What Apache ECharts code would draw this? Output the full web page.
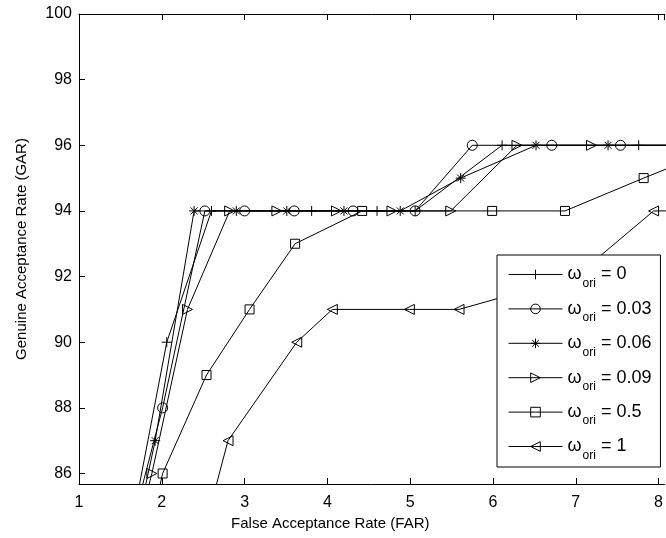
<!DOCTYPE html>
<html>
<head>
<meta charset="utf-8">
<script src="https://cdn.jsdelivr.net/npm/echarts@6/dist/echarts.min.js"></script>
<style>
    html, body {margin: 0; padding: 0; background: #fff;}
    #roc_chart {width: 666px; height: 538px;}
</style>
</head>
<body>
<div id="roc_chart"></div>
<script>
    // omega_ori values of the six curves
    var omegaValues = ['0', '0.03', '0.06', '0.09', '0.5', '1'];

    // FAR / GAR (points below the axis / right of the frame are clipped)
    var farW0 = [1.68, 2.06, 2.60, 3.81, 4.60, 5.06, 6.11, 7.76, 8.60];
    var garW0 = [85, 90, 94, 94, 94, 94, 96, 96, 96];

    var farW003 = [1.70, 2.01, 2.52, 3.00, 3.60, 4.31, 5.06, 5.75, 6.71, 7.54, 8.40];
    var garW003 = [85, 88, 94, 94, 94, 94, 94, 96, 96, 96, 96];

    var farW006 = [1.75, 1.92, 2.39, 2.90, 3.51, 4.20, 4.88, 5.61, 6.52, 7.39, 8.30];
    var garW006 = [85, 87, 94, 94, 94, 94, 94, 95, 96, 96, 96];

    var farW009 = [1.78, 1.88, 2.31, 2.82, 3.39, 4.11, 4.78, 5.49, 6.29, 7.19, 8.20];
    var garW009 = [85, 86, 91, 94, 94, 94, 94, 94, 96, 96, 96];

    var farW05 = [1.92, 2.01, 2.54, 3.06, 3.61, 4.42, 5.99, 6.87, 7.82, 8.80];
    var garW05 = [85, 86, 89, 91, 93, 94, 94, 94, 95, 96];

    var farW1 = [2.59, 2.80, 3.63, 4.06, 4.99, 5.59, 7.00, 7.94, 8.80];
    var garW1 = [85, 87, 90, 91, 91, 91, 92, 94, 94];

    var farList = [farW0, farW003, farW006, farW009, farW05, farW1];
    var garList = [garW0, garW003, garW006, garW009, garW05, garW1];

    // matlab style markers: + o * > s <
    var markerList = [
        'path://M5,0L5,10M0,5L10,5',
        'circle',
        'path://M5,0L5,10M0,5L10,5M1.5,1.5L8.5,8.5M1.5,8.5L8.5,1.5',
        'path://M0,0L10,5L0,10Z',
        'rect',
        'path://M10,0L0,5L10,10Z'
    ];
    var markerSize = [10, 10, 10, 10, 9, 10];

    var fontName = '"Liberation Sans", Arial, sans-serif';

    function buildSeries() {
        var list = [];
        for (var i = 0; i < omegaValues.length; i++) {
            var points = [];
            for (var j = 0; j < farList[i].length; j++) {
                points.push([farList[i][j], garList[i][j]]);
            }
            list.push({
                name: omegaValues[i],
                type: 'line',
                xAxisIndex: 0,
                yAxisIndex: 0,
                data: points,
                symbol: markerList[i],
                symbolSize: markerSize[i],
                showAllSymbol: true,
                clip: true,
                lineStyle: {color: '#000', width: 1},
                itemStyle: {color: 'none', borderColor: '#000', borderWidth: 1},
                emphasis: {disabled: true}
            });
        }
        return list;
    }

    var myChart = echarts.init(document.getElementById('roc_chart'));
    var option = {
        animation: false,
        backgroundColor: '#fff',
        textStyle: {fontFamily: fontName},
        // the right part of the frame is cut off in the original picture
        grid: {left: 79, top: 14, right: 0, bottom: 54},
        legend: {
            orient: 'vertical',
            left: 497,
            top: 255,
            padding: [4.5, 9, 5.5, 11],
            itemWidth: 54,
            itemHeight: 12,
            itemGap: 4.4,
            selectedMode: false,
            backgroundColor: '#fff',
            borderColor: '#000',
            borderWidth: 1,
            borderRadius: 0,
            data: omegaValues,
            lineStyle: {color: '#000', width: 1},
            itemStyle: {color: 'none', borderColor: '#000', borderWidth: 1},
            formatter: function (name) {
                return '{w|ω}{s|ori}{w| = ' + name + '}';
            },
            textStyle: {
                rich: {
                    w: {fontSize: 18, fontFamily: fontName, color: '#000'},
                    s: {fontSize: 12, lineHeight: 12, fontFamily: fontName, color: '#000', padding: [18, 0, 0, 1]}
                }
            }
        },
        xAxis: [
            {
                type: 'value',
                min: 1,
                max: 8.072,
                interval: 1,
                position: 'bottom',
                name: 'False Acceptance Rate (FAR)',
                nameLocation: 'middle',
                nameGap: 31,
                nameTextStyle: {fontSize: 15, color: '#000', fontFamily: fontName, padding: [0, 83, 0, 0]},
                axisLine: {lineStyle: {color: '#000', width: 1}},
                axisTick: {inside: true, length: 6, lineStyle: {color: '#000'}},
                axisLabel: {fontSize: 16, color: '#000', margin: 11, fontFamily: fontName, showMaxLabel: false},
                splitLine: {show: false}
            },
            {
                type: 'value',
                min: 1,
                max: 8.072,
                interval: 1,
                position: 'top',
                axisLine: {lineStyle: {color: '#000', width: 1}},
                axisTick: {inside: true, length: 6, lineStyle: {color: '#000'}},
                axisLabel: {show: false},
                splitLine: {show: false}
            }
        ],
        yAxis: [
            {
                type: 'value',
                min: 85.68,
                max: 100,
                splitNumber: 7,
                position: 'left',
                name: 'Genuine Acceptance Rate (GAR)',
                nameLocation: 'middle',
                nameGap: 50,
                nameTextStyle: {fontSize: 15, color: '#000', fontFamily: fontName},
                axisLine: {lineStyle: {color: '#000', width: 1}},
                axisTick: {inside: true, length: 6, lineStyle: {color: '#000'}},
                axisLabel: {fontSize: 16, color: '#000', margin: 7, fontFamily: fontName, showMinLabel: false},
                splitLine: {show: false}
            }
        ],
        series: buildSeries()
    };
    myChart.setOption(option);
</script>
</body>
</html>
